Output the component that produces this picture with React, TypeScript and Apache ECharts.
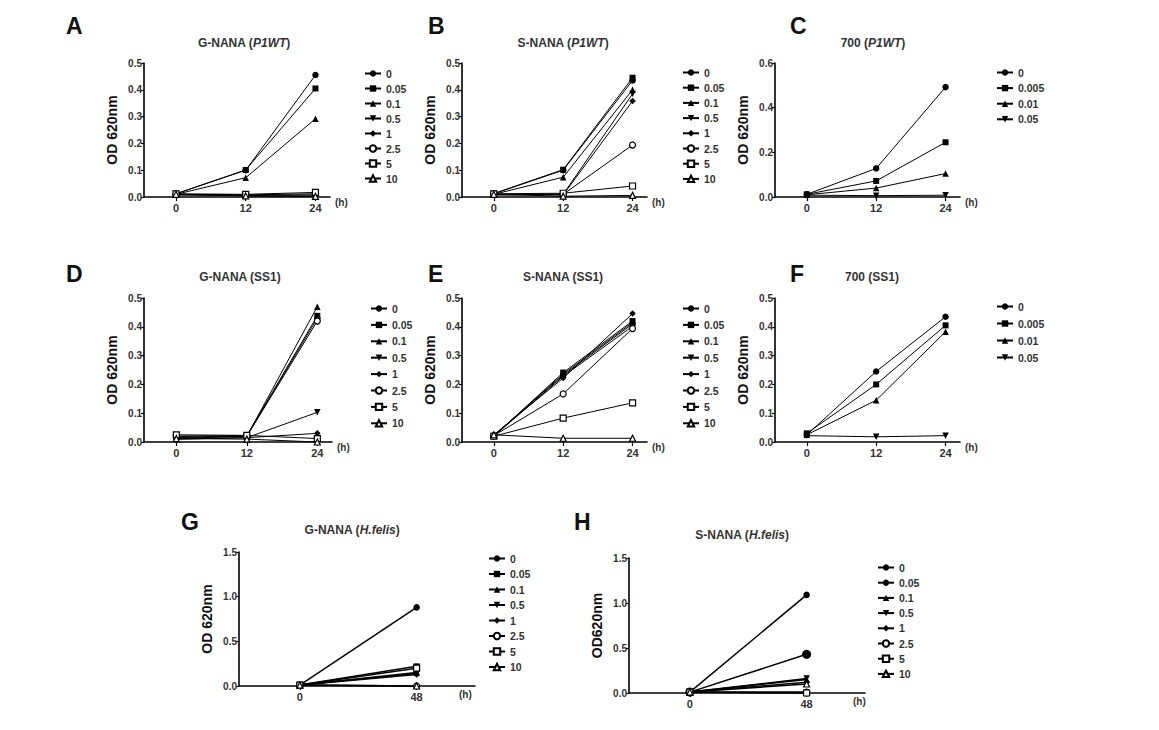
import React, { useEffect, useRef } from "react";
import * as echarts from "echarts";

// ---------- data ----------
const hoursShort = [0, 12, 24];
const hoursLong = [0, 48];
const nanaConc = ["0", "0.05", "0.1", "0.5", "1", "2.5", "5", "10"];
const conc700 = ["0", "0.005", "0.01", "0.05"];

// values per concentration, one entry per time point
const gNanaP1WT = [
  [0.012, 0.1, 0.455],
  [0.012, 0.101, 0.405],
  [0.01, 0.072, 0.292],
  [0.008, 0.005, 0.004],
  [0.008, 0.006, 0.008],
  [0.01, 0.008, 0.012],
  [0.012, 0.01, 0.017],
  [0.01, 0.004, 0.002],
];
const sNanaP1WT = [
  [0.012, 0.1, 0.435],
  [0.013, 0.102, 0.445],
  [0.01, 0.074, 0.4],
  [0.008, 0.01, 0.385],
  [0.008, 0.008, 0.358],
  [0.01, 0.01, 0.194],
  [0.012, 0.014, 0.041],
  [0.01, 0.003, 0.006],
];
const c700P1WT = [
  [0.012, 0.128, 0.492],
  [0.012, 0.072, 0.245],
  [0.01, 0.04, 0.105],
  [0.008, 0.006, 0.008],
];
const gNanaSS1 = [
  [0.015, 0.02, 0.43],
  [0.02, 0.022, 0.438],
  [0.012, 0.02, 0.47],
  [0.01, 0.015, 0.103],
  [0.01, 0.015, 0.03],
  [0.02, 0.02, 0.42],
  [0.025, 0.023, 0.012],
  [0.012, 0.01, 0.0],
];
const sNanaSS1 = [
  [0.022, 0.232, 0.41],
  [0.02, 0.241, 0.42],
  [0.022, 0.236, 0.415],
  [0.02, 0.228, 0.402],
  [0.025, 0.222, 0.446],
  [0.022, 0.167, 0.394],
  [0.02, 0.083, 0.136],
  [0.025, 0.013, 0.013],
];
const c700SS1 = [
  [0.025, 0.245, 0.435],
  [0.03, 0.2, 0.405],
  [0.025, 0.145, 0.383],
  [0.022, 0.018, 0.022],
];
const gNanaHfelis = [
  [0.01, 0.88],
  [0.01, 0.22],
  [0.01, 0.15],
  [0.01, 0.14],
  [0.01, 0.13],
  [0.01, 0.0],
  [0.01, 0.2],
  [0.01, 0.0],
];
const sNanaHfelis = [
  [0.01, 1.09],
  [0.01, 0.43],
  [0.01, 0.15],
  [0.01, 0.16],
  [0.01, 0.12],
  [0.01, 0.01],
  [0.01, 0.0],
  [0.01, 0.1],
];

// ---------- styles ----------
type Marker = { symbol: string; rotate?: number; open?: boolean; size?: number };
const nanaMarkers: Marker[] = [
  { symbol: "circle" },
  { symbol: "rect" },
  { symbol: "triangle" },
  { symbol: "triangle", rotate: 180 },
  { symbol: "diamond" },
  { symbol: "circle", open: true },
  { symbol: "rect", open: true },
  { symbol: "triangle", open: true },
];
const markers700: Marker[] = [
  { symbol: "circle" },
  { symbol: "rect" },
  { symbol: "triangle" },
  { symbol: "triangle", rotate: 180 },
];
const hMarkers: Marker[] = nanaMarkers.map((m, i) => (i === 1 ? { symbol: "circle", size: 9 } : m));

const FONT = "'Liberation Sans', Arial, Helvetica, sans-serif";

interface Panel {
  letter: string;
  letterX: number;
  letterY: number;
  title: [string, string, string];
  titleX: number;
  titleY: number;
  yName: string;
  grid: { left: number; top: number; width: number; height: number };
  xMin: number;
  xMax: number;
  hours: number[];
  yMax: number;
  yInterval: number;
  conc: string[];
  markers: Marker[];
  values: number[][];
  legendX: number;
  legendY: number;
  legendGap: number;
  hNameGap: number;
  hBelow: boolean;
  lineWidth: number;
}

const panels: Panel[] = [
  {
    letter: "A", letterX: 66, letterY: 14, title: ["G-NANA (", "P1WT", ")"], titleX: 244, titleY: 37, yName: "OD 620nm",
    grid: { left: 144, top: 63, width: 186, height: 134 }, xMin: -5.5, xMax: 26.5, hours: hoursShort,
    yMax: 0.5, yInterval: 0.1, conc: nanaConc, markers: nanaMarkers, values: gNanaP1WT,
    legendX: 364, legendY: 68, legendGap: 4, hNameGap: 5, hBelow: false, lineWidth: 1,
  },
  {
    letter: "B", letterX: 428, letterY: 14, title: ["S-NANA (", "P1WT", ")"], titleX: 563, titleY: 37, yName: "OD 620nm",
    grid: { left: 462, top: 63, width: 185, height: 134 }, xMin: -5.5, xMax: 26.5, hours: hoursShort,
    yMax: 0.5, yInterval: 0.1, conc: nanaConc, markers: nanaMarkers, values: sNanaP1WT,
    legendX: 682, legendY: 67, legendGap: 4.2, hNameGap: 5, hBelow: false, lineWidth: 1,
  },
  {
    letter: "C", letterX: 790, letterY: 14, title: ["700 (", "P1WT", ")"], titleX: 873, titleY: 37, yName: "OD 620nm",
    grid: { left: 775, top: 63, width: 185, height: 134 }, xMin: -5.5, xMax: 26.5, hours: hoursShort,
    yMax: 0.6, yInterval: 0.2, conc: conc700, markers: markers700, values: c700P1WT,
    legendX: 996, legendY: 67, legendGap: 4.6, hNameGap: 5, hBelow: false, lineWidth: 1,
  },
  {
    letter: "D", letterX: 66, letterY: 262, title: ["G-NANA (SS1)", "", ""], titleX: 240, titleY: 271, yName: "OD 620nm",
    grid: { left: 144, top: 298, width: 188, height: 144 }, xMin: -5.5, xMax: 26.5, hours: hoursShort,
    yMax: 0.5, yInterval: 0.1, conc: nanaConc, markers: nanaMarkers, values: gNanaSS1,
    legendX: 370, legendY: 303, legendGap: 5.4, hNameGap: 5, hBelow: false, lineWidth: 1,
  },
  {
    letter: "E", letterX: 428, letterY: 262, title: ["S-NANA (SS1)", "", ""], titleX: 563, titleY: 271, yName: "OD 620nm",
    grid: { left: 462, top: 298, width: 185, height: 144 }, xMin: -5.5, xMax: 26.5, hours: hoursShort,
    yMax: 0.5, yInterval: 0.1, conc: nanaConc, markers: nanaMarkers, values: sNanaSS1,
    legendX: 682, legendY: 303, legendGap: 5.4, hNameGap: 5, hBelow: false, lineWidth: 1,
  },
  {
    letter: "F", letterX: 790, letterY: 262, title: ["700 (SS1)", "", ""], titleX: 872, titleY: 271, yName: "OD 620nm",
    grid: { left: 775, top: 298, width: 185, height: 144 }, xMin: -5.5, xMax: 26.5, hours: hoursShort,
    yMax: 0.5, yInterval: 0.1, conc: conc700, markers: markers700, values: c700SS1,
    legendX: 996, legendY: 301, legendGap: 6, hNameGap: 5, hBelow: false, lineWidth: 1,
  },
  {
    letter: "G", letterX: 181, letterY: 510, title: ["G-NANA (", "H.felis", ")"], titleX: 352, titleY: 524, yName: "OD 620nm",
    grid: { left: 239, top: 552, width: 236, height: 134 }, xMin: -25, xMax: 72, hours: hoursLong,
    yMax: 1.5, yInterval: 0.5, conc: nanaConc, markers: nanaMarkers, values: gNanaHfelis,
    legendX: 488, legendY: 553, legendGap: 4.5, hNameGap: -16, hBelow: true, lineWidth: 1.5,
  },
  {
    letter: "H", letterX: 574, letterY: 510, title: ["S-NANA (", "H.felis", ")"], titleX: 742, titleY: 529, yName: "OD620nm",
    grid: { left: 629, top: 558, width: 236, height: 135 }, xMin: -25, xMax: 72, hours: hoursLong,
    yMax: 1.5, yInterval: 0.5, conc: nanaConc, markers: hMarkers, values: sNanaHfelis,
    legendX: 877, legendY: 562, legendGap: 4.2, hNameGap: -12, hBelow: true, lineWidth: 1.5,
  },
];

function buildOption(p: Panel): any {
  const axisColor = "#000";
  const titleText = p.title[1]
    ? `{n|${p.title[0]}}{i|${p.title[1]}}{n|${p.title[2]}}`
    : `{n|${p.title[0]}}`;
  return {
    animation: false,
    textStyle: { fontFamily: FONT },
    title: [
      {
        text: p.letter,
        left: p.letterX,
        top: p.letterY,
        padding: 0,
        textStyle: { fontSize: 23, fontWeight: "bold", color: "#111", fontFamily: FONT },
      },
      {
        text: titleText,
        left: p.titleX,
        top: p.titleY,
        padding: 0,
        textAlign: "center",
        textStyle: {
          fontSize: 12,
          fontWeight: "bold",
          color: "#333",
          fontFamily: FONT,
          rich: {
            n: { fontSize: 12, fontWeight: "bold", color: "#333", fontFamily: FONT },
            i: { fontSize: 12, fontWeight: "bold", fontStyle: "italic", color: "#333", fontFamily: FONT },
          },
        },
      },
    ],
    grid: { ...p.grid, containLabel: false, outerBoundsMode: "none" },
    xAxis: {
      type: "value",
      min: p.xMin,
      max: p.xMax,
      name: "(h)",
      nameLocation: "end",
      nameGap: p.hNameGap,
      nameTextStyle: {
        fontSize: 10,
        fontWeight: "bold",
        color: "#333",
        fontFamily: FONT,
        verticalAlign: "top",
        align: "left",
        padding: p.hBelow ? [3, 0, 0, 0] : [0, 0, 0, 0],
      },
      axisLine: { show: true, onZero: false, lineStyle: { color: axisColor, width: 1.6 } },
      axisTick: { show: true, customValues: p.hours, length: 4, lineStyle: { color: axisColor, width: 1.2 } },
      axisLabel: {
        customValues: p.hours,
        fontSize: 11,
        fontWeight: "bold",
        color: "#333",
        fontFamily: FONT,
        margin: 5,
      },
      splitLine: { show: false },
    },
    yAxis: {
      type: "value",
      min: 0,
      max: p.yMax,
      interval: p.yInterval,
      name: p.yName,
      nameLocation: "middle",
      nameGap: 25,
      nameTextStyle: { fontSize: 14, fontWeight: "bold", color: "#111", fontFamily: FONT },
      axisLine: { show: true, onZero: false, lineStyle: { color: axisColor, width: 1.6 } },
      axisTick: { show: true, length: 3, lineStyle: { color: axisColor, width: 1.2 } },
      axisLabel: {
        formatter: (v: number) => v.toFixed(1),
        fontSize: 10,
        fontWeight: "bold",
        color: "#333",
        fontFamily: FONT,
        margin: 2,
      },
      splitLine: { show: false },
    },
    legend: {
      orient: "vertical",
      left: p.legendX,
      top: p.legendY,
      padding: 0,
      itemWidth: 16,
      itemHeight: 8,
      itemGap: p.legendGap,
      selectedMode: false,
      textStyle: { fontSize: 10.5, fontWeight: "bold", color: "#333", fontFamily: FONT, lineHeight: 10 },
      data: p.conc,
    },
    series: p.conc.map((name, i) => {
      const m = p.markers[i];
      return {
        type: "line",
        name,
        data: p.hours.map((h, j) => [h, p.values[i][j]]),
        symbol: m.symbol,
        symbolSize: m.size ?? (m.open ? 6 : m.symbol === "rect" ? 6 : 6.5),
        symbolRotate: m.rotate ?? 0,
        showAllSymbol: true,
        clip: false,
        lineStyle: { color: "#000", width: p.lineWidth },
        itemStyle: m.open
          ? { color: "#fff", borderColor: "#000", borderWidth: 1.2 }
          : { color: "#000", borderColor: "#000", borderWidth: 0 },
        emphasis: { disabled: true },
        z: 3,
      };
    }),
  };
}

function PanelChart({ panel }: { panel: Panel }) {
  const ref = useRef<HTMLDivElement>(null);
  useEffect(() => {
    if (!ref.current) return;
    const chart = echarts.init(ref.current, undefined, { renderer: "svg" });
    chart.setOption(buildOption(panel));
    return () => chart.dispose();
  }, [panel]);
  return (
    <div
      ref={ref}
      style={{ position: "absolute", left: 0, top: 0, width: 1159, height: 730 }}
    />
  );
}

export default function App() {
  return (
    <div
      style={{
        position: "absolute",
        left: 0,
        top: 0,
        width: 1159,
        height: 730,
        background: "#fff",
        overflow: "hidden",
      }}
    >
      {panels.map((p) => (
        <PanelChart key={p.letter} panel={p} />
      ))}
    </div>
  );
}
